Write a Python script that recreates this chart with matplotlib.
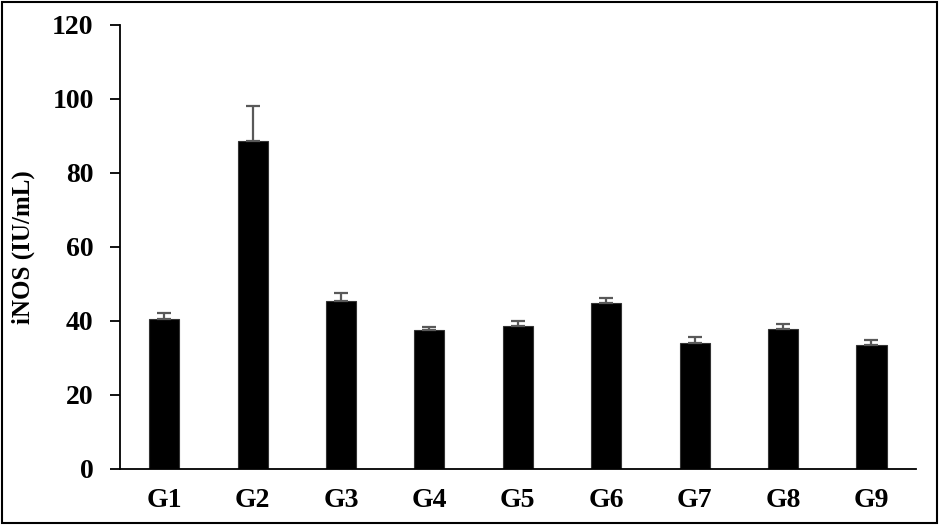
import matplotlib
matplotlib.use('Agg')
import matplotlib.pyplot as plt
import matplotlib.patches as mpatches
import numpy as np

groups = ['G1', 'G2', 'G3', 'G4', 'G5', 'G6', 'G7', 'G8', 'G9']
inos = [40.4, 88.5, 45.3, 37.5, 38.6, 44.7, 34.0, 37.7, 33.4]
err = [1.8, 9.5, 2.3, 0.7, 1.2, 1.3, 1.7, 1.5, 1.5]

plt.rcParams['font.family'] = ['Liberation Serif', 'DejaVu Serif']

fig = plt.figure(figsize=(9.45, 5.26), dpi=100)
ax = fig.add_axes([0.127, 0.109, 0.842, 0.844])

x = np.arange(len(groups))
ax.bar(x, inos, width=0.34, color='black', edgecolor='#333333', linewidth=0.8,
       yerr=[np.zeros(len(err)), err],
       error_kw=dict(ecolor='#595959', elinewidth=1.6, capsize=5, capthick=1.6))

ax.set_xlim(-0.5, len(groups) - 0.5)
ax.set_ylim(0, 120)
ax.set_yticks(range(0, 121, 20))
ax.set_xticks(x)
ax.set_xticklabels(groups, fontsize=20, fontweight='bold')
for lab in ax.get_yticklabels():
    lab.set_fontsize(20)
    lab.set_fontweight('bold')
ax.tick_params(axis='y', direction='out', length=7, width=1.3, pad=12)
ax.tick_params(axis='x', length=0, pad=14)

ax.set_ylabel('iNOS (IU/mL)', fontsize=18, fontweight='bold')
ax.yaxis.set_label_coords(-0.107, 0.5)

ax.spines['top'].set_visible(False)
ax.spines['right'].set_visible(False)
ax.spines['left'].set_linewidth(1.3)
ax.spines['bottom'].set_linewidth(1.3)

# outer frame around the figure
frame = mpatches.Rectangle((0.002, 0.006), 0.990, 0.990, transform=fig.transFigure,
                           fill=False, edgecolor='black', linewidth=1.5)
fig.patches.append(frame)

fig.savefig('out.png', dpi=100)
plt.close()
